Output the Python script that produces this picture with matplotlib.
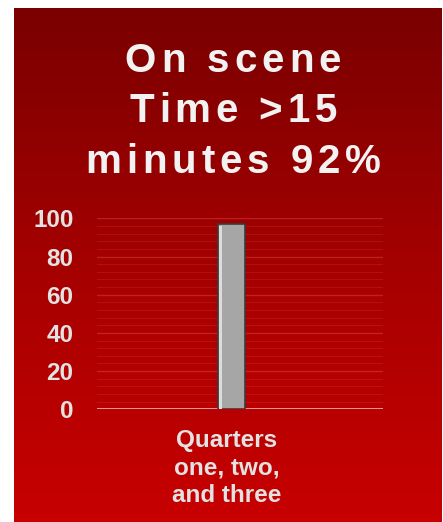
import numpy as np
import matplotlib
matplotlib.use('Agg')
import matplotlib.pyplot as plt
from matplotlib.colors import LinearSegmentedColormap
from matplotlib.patches import Rectangle
from matplotlib.font_manager import FontProperties
from matplotlib.transforms import ScaledTranslation

categories = ['Quarters\none, two,\nand three']
values = [97]
title_lines = ['On scene', 'Time >15', 'minutes 92%']

plt.rcParams['font.family'] = ['Liberation Sans', 'DejaVu Sans']

W, H = 443, 522
fig = plt.figure(figsize=(W / 100, H / 100), dpi=100)
fig.patch.set_facecolor('white')

# red gradient panel behind everything
bg = fig.add_axes([14 / W, 0, 428 / W, 1 - 8 / H], zorder=0)
cmap = LinearSegmentedColormap.from_list('red', ['#7a0000', '#a50000', '#c80000'])
grad = np.linspace(0, 1, 256).reshape(-1, 1)
bg.imshow(grad, aspect='auto', cmap=cmap, extent=[0, 1, 0, 1], origin='upper')
bg.axis('off')


def spaced_text(s, cx, baseline, size, spacing):
    # draw letter-spaced text centred on cx (pixels), baseline in pixels from top
    renderer = fig.canvas.get_renderer()
    prop = FontProperties(family=['Liberation Sans', 'DejaVu Sans'], weight='bold', size=size)
    px = lambda t: renderer.get_text_width_height_descent(t, prop, ismath=False)[0] if t else 0
    total = px(s) + spacing * (len(s) - 1)
    x0 = cx - total / 2
    for i, ch in enumerate(s):
        if ch == ' ':
            continue
        xi = x0 + px(s[:i]) + spacing * i
        fig.text(xi / W, 1 - baseline / H, ch, fontproperties=prop, color='#f2f2f2',
                 ha='left', va='baseline')


for line, base in zip(title_lines, [72, 122, 173]):
    spaced_text(line, 233, base, 29, 5)

ax = fig.add_axes([97 / W, 1 - 409.3 / H, 286 / W, 191 / H], zorder=1)
ax.patch.set_alpha(0)
x = np.arange(len(categories))
bars = ax.bar(x, values, width=0.094, color='#a6a6a6', edgecolor='#3a3a3a',
              linewidth=1.2, zorder=3)
# light highlight on the left side of the bar
for b in bars:
    ax.add_patch(Rectangle((b.get_x() + 0.005, 0.3), 0.008, b.get_height() - 1.2,
                           color='#dcdcdc', zorder=4, linewidth=0))

ax.set_xlim(-0.47, 0.53)
ax.set_ylim(0, 100)
ax.set_yticks(range(0, 101, 20))
ax.set_yticks(range(0, 101, 4), minor=True)
ax.grid(axis='y', which='major', color='#ff7070', alpha=0.3, linewidth=1)
ax.grid(axis='y', which='minor', color='#ff7070', alpha=0.15, linewidth=0.8)
ax.set_axisbelow(True)
ax.axhline(0, color='#e8a8a8', linewidth=2, zorder=2)

for s in ax.spines.values():
    s.set_visible(False)
ax.tick_params(axis='both', which='both', length=0)
ax.tick_params(axis='y', pad=17, labelsize=17.5, labelcolor='#e2e2e2')
for t in ax.get_yticklabels():
    t.set_fontweight('bold')
ax.set_xticks(x)
ax.set_xticklabels(categories, fontsize=17.5, fontweight='bold', color='#e2e2e2',
                   linespacing=1.25)
ax.tick_params(axis='x', pad=14)
for t in ax.get_xticklabels():
    t.set_transform(t.get_transform() + ScaledTranslation(-0.05, 0, fig.dpi_scale_trans))

fig.savefig('out.png', dpi=100)
